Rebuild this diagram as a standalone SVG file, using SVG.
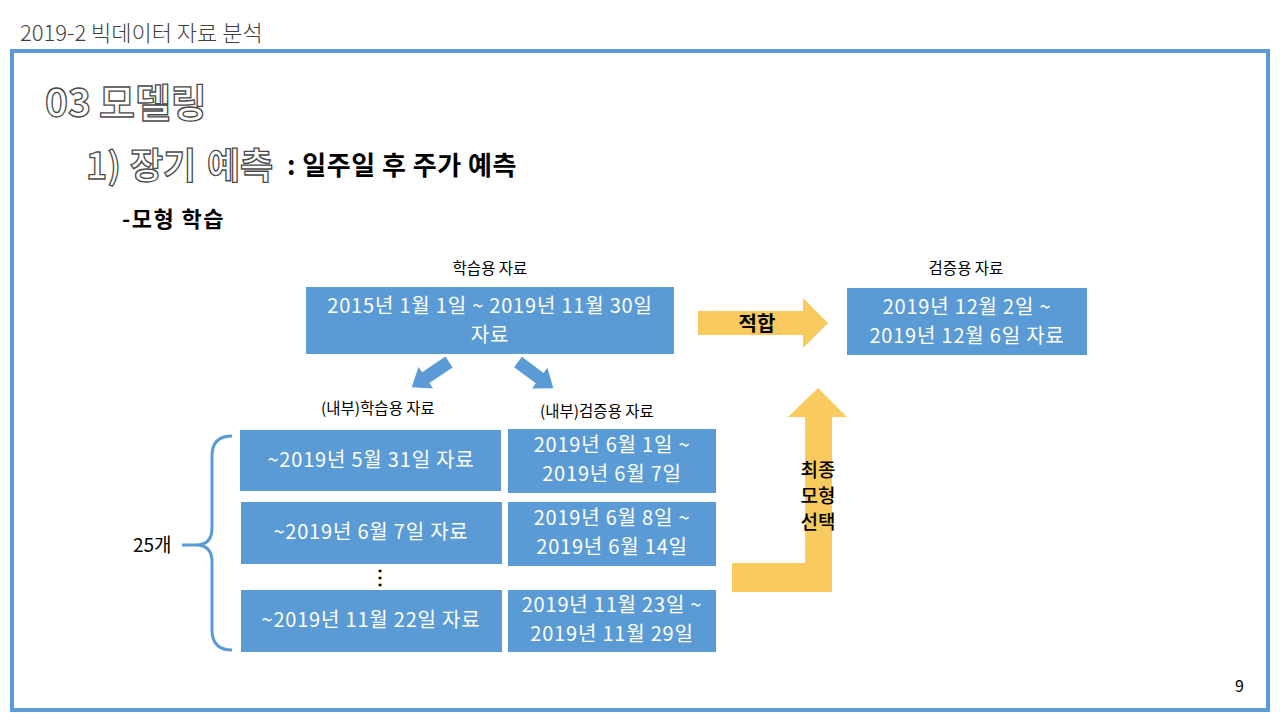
<svg xmlns="http://www.w3.org/2000/svg" width="1280" height="720" viewBox="0 0 1280 720">
<style>
.ko{font-family:"Noto Sans CJK KR","Noto Sans",sans-serif}
.box{fill:#5B9BD5}
.bt{font-family:"Noto Sans CJK KR","Noto Sans",sans-serif;font-size:20px;letter-spacing:0.8px;fill:#fff;text-anchor:middle}
.lbl{font-family:"Noto Sans CJK KR","Noto Sans",sans-serif;font-size:15.5px;fill:#000;text-anchor:middle}
.yel{fill:#F9CB5E}
.barr{fill:#5B9BD5}
.outl{font-family:"Noto Sans CJK KR","Noto Sans",sans-serif;font-weight:700;fill:#fff;stroke:#4a4a4a;stroke-width:1.3}
</style>
<rect width="1280" height="720" fill="#fff"/>
<text class="ko" x="20" y="41" font-size="22" font-weight="300" fill="#404040">2019-2 빅데이터 자료 분석</text>
<rect x="12" y="51" width="1256" height="659" fill="none" stroke="#5B9BD5" stroke-width="4"/>
<text class="outl" y="117" font-size="39"><tspan x="45">03</tspan><tspan x="99">모델링</tspan></text>
<text class="outl" y="179" font-size="36"><tspan x="86">1)</tspan><tspan x="130">장기</tspan><tspan x="207">예측</tspan></text>
<text class="ko" x="287" y="175" font-size="26" font-weight="700" fill="#000" letter-spacing="0.5">: 일주일 후 주가 예측</text>
<text class="ko" x="122" y="227" font-size="22" font-weight="700" fill="#000" letter-spacing="1.5">-모형 학습</text>

<g id="connectors">
  <polygon class="yel" points="698,311 803,311 803,298 828,323 803,348 803,335 698,335"/>
  <polygon class="yel" points="732,563 805,563 805,417 788,417 818,388 847,417 832,417 832,592 732,592"/>
  <polygon class="barr" transform="translate(449,362) rotate(146)" points="0,-6.5 28,-6.5 28,-13 45,0 28,13 28,6.5 0,6.5"/>
  <polygon class="barr" transform="translate(518,362) rotate(36.6)" points="0,-6.5 27,-6.5 27,-13 44,0 27,13 27,6.5 0,6.5"/>
  <path d="M232,436 Q212,436 212,456 L212,528 Q212,545 196,545 L182,545 M196,545 Q212,545 212,562 L212,630 Q212,650 232,650" fill="none" stroke="#5B9BD5" stroke-width="3"/>
  <text class="ko" x="757" y="331" font-size="20" font-weight="700" fill="#000" text-anchor="middle">적합</text>
  <text class="ko" font-size="19" fill="#000" text-anchor="middle" font-weight="500"><tspan x="818" y="477">최종</tspan><tspan x="818" y="503">모형</tspan><tspan x="818" y="529">선택</tspan></text>
</g>

<g id="train-all">
  <text class="lbl" x="490" y="274">학습용 자료</text>
  <rect class="box" x="306" y="287" width="368" height="67"/>
  <text class="bt"><tspan x="490" y="313">2015년 1월 1일 ~ 2019년 11월 30일</tspan><tspan x="490" y="342">자료</tspan></text>
</g>
<g id="valid-all">
  <text class="lbl" x="966" y="274">검증용 자료</text>
  <rect class="box" x="847" y="288" width="240" height="67"/>
  <text class="bt"><tspan x="967" y="314">2019년 12월 2일 ~</tspan><tspan x="967" y="343">2019년 12월 6일 자료</tspan></text>
</g>
<text class="lbl" x="378" y="414">(내부)학습용 자료</text>
<text class="lbl" x="597" y="417">(내부)검증용 자료</text>

<g id="train-1">
  <rect class="box" x="240" y="430" width="261" height="61"/>
  <text class="bt" x="371" y="467">~2019년 5월 31일 자료</text>
</g>
<g id="valid-1">
  <rect class="box" x="508" y="429" width="208" height="64"/>
  <text class="bt"><tspan x="612" y="452">2019년 6월 1일 ~</tspan><tspan x="612" y="481">2019년 6월 7일</tspan></text>
</g>
<g id="train-2">
  <rect class="box" x="241" y="502" width="261" height="62"/>
  <text class="bt" x="371" y="539">~2019년 6월 7일 자료</text>
</g>
<g id="valid-2">
  <rect class="box" x="508" y="502" width="208" height="64"/>
  <text class="bt"><tspan x="612" y="525">2019년 6월 8일 ~</tspan><tspan x="612" y="554">2019년 6월 14일</tspan></text>
</g>
<text class="ko" x="380" y="584" font-size="20" font-weight="700" fill="#000" text-anchor="middle">⋮</text>
<g id="train-3">
  <rect class="box" x="241" y="590" width="261" height="62"/>
  <text class="bt" x="371" y="627">~2019년 11월 22일 자료</text>
</g>
<g id="valid-3">
  <rect class="box" x="508" y="590" width="208" height="62"/>
  <text class="bt"><tspan x="612" y="612">2019년 11월 23일 ~</tspan><tspan x="612" y="641">2019년 11월 29일</tspan></text>
</g>
<text class="ko" x="133" y="552" font-size="19" fill="#000">25개</text>
<text class="ko" x="1235" y="692" font-size="16" fill="#000">9</text>
</svg>
